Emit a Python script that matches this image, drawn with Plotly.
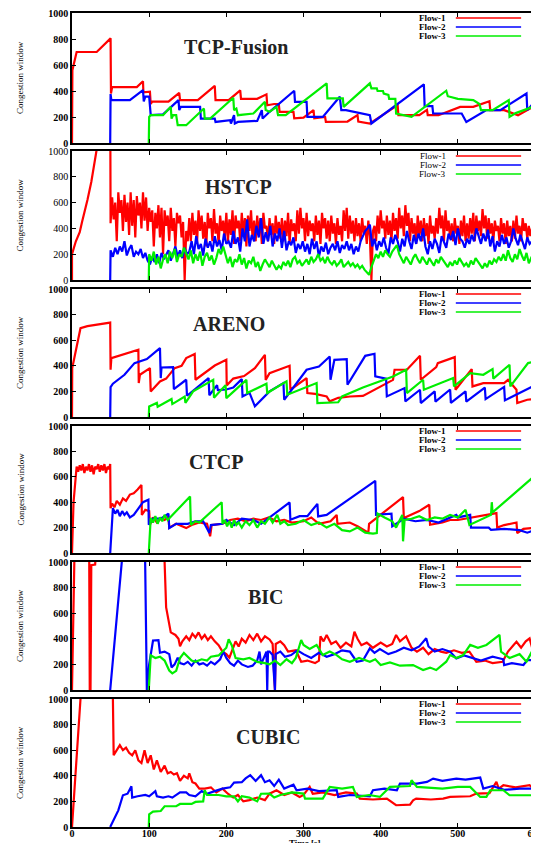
import plotly.graph_objects as go

# ---------------- data ----------------
PANEL_TITLES = ["TCP-Fusion", "HSTCP", "ARENO", "CTCP", "BIC", "CUBIC"]
FLOW_NAMES = ["Flow-1", "Flow-2", "Flow-3"]
COLORS = ["#ff0000", "#0000ff", "#00ee00"]
X_TICKS = [0, 100, 200, 300, 400, 500, 600]
Y_TICKS = [0, 200, 400, 600, 800, 1000]

# TCP-Fusion  (time [s], cwnd)
fusion_flow1 = [(0,0),(0.5,560),(6,700),(32,700),(50,805),(50.5,380),(52,430),(84,430),(92,475),(92.5,390),
    (101,395),(102,300),(104,318),(125,318),(139,385),(140,330),(163,330),(185,440),(186,330),(203,330),
    (218,405),(219,340),(240,340),(252,374),(253,290),(262,300),(268,300),(269,240),(287,240),(288,190),
    (300,195),(313,253),(314,190),(328,200),(329,162),(357,165),(370,214),(371,165),(386,150),(422,291),
    (423,214),(450,214),(460,255),(461,214),(475,214),(503,278),(520,278),(541,322),(542,253),(560,253),
    (578,214),(596,273),(597,240),(600,240)]
fusion_flow2 = [(49.5,0),(50,376),(51,330),(75,330),(92,407),(93,320),(95,357),(100,357),(102,214),(118,220),
    (138,330),(139,253),(141,278),(166,278),(167,188),(185,188),(186,162),(205,175),(206,150),(210,214),
    (211,150),(215,162),(240,170),(246,253),(247,188),(256,240),(288,402),(289,317),(304,317),(305,201),
    (325,201),(347,356),(349,253),(355,253),(386,214),(388,150),(456,451),(457,283),(467,283),(468,227),
    (505,227),(511,162),(537,253),(555,253),(589,381),(590,253),(597,300),(600,230)]
fusion_flow3 = [(99.5,0),(100,201),(102,214),(118,214),(128,278),(129,188),(131,214),(135,214),(137,137),
    (148,137),(171,265),(172,188),(179,188),(209,348),(210,253),(213,265),(215,214),(235,227),(250,317),
    (251,253),(256,240),(265,278),(267,214),(277,214),(330,459),(331,343),(351,343),(352,278),(386,459),
    (388,420),(395,420),(396,400),(403,400),(404,380),(410,370),(411,340),(419,340),(420,227),(440,201),
    (485,402),(487,360),(500,340),(520,330),(528,300),(530,253),(545,253),(566,330),(567,201),(575,230),
    (597,278),(598,201),(600,201)]

# HSTCP: start-up segment followed by noisy samples (flow-1 every 2 s from 50 s,
# flow-2 every 3 s from 50 s, flow-3 every 3 s from 100 s)
hstcp_flow1_head = [(0,0),(0,200),(5,300),(10,370),(13,450),(16,520),(20,620),(25,760),(29,900),(32,1000),
    (40,1300),(49.5,1500)]
hstcp_flow1_vals = [
    440,640,470,600,300,680,520,620,380,660,450,600,350,680,420,620,330,650,500,600,400,680,460,640,380,560,
    450,540,260,520,400,580,330,560,200,540,420,500,300,560,380,480,260,520,440,500,330,450,0,380,300,
    480,300,520,350,460,280,540,380,500,320,450,260,520,400,480,300,550,360,440,280,500,380,460,320,520,
    300,470,350,540,280,500,400,460,300,520,350,480,260,500,380,540,320,460,300,500,350,480,280,520,400,
    420,300,480,350,440,280,500,360,450,320, 480,300,460,340,520,280,470,380,440,300,
    540,360,560,400,480,300,520,340,460,380, 440,300,500,350,460,280,520,400,480,320,
    460,300,500,360,440,280,480,350,420,300, 540,380,560,320,500,360,460,300,480,340,
    440,300,480,360,420,280,460,340,0,380, 420,300,500,360,540,400,460,320,500,350,
    460,300,520,380,480,320,560,400,500,340, 580,420,520,300,480,360,440,280,500,350,
    460,300,480,340,440,280,500,360,420,320, 480,360,560,400,500,300,540,380,460,320,
    440,300,480,360,420,280,460,340,500,300, 440,320,480,360,520,300,500,380,460,340,
    550,400,500,320,480,360,440,300,460,380, 420,300,480,360,440,280,460,340,420,300,
    460,320,500,360,420,300,480,380,440,320, 420,340,400,360,380]
hstcp_flow2_head = [(49.5,0)]
hstcp_flow2_vals = [
    230,180,250,200,260,220,300,190,240,270,180,220,200,240,170,210,150,
    120,180,140,200,130,210,160,190,230,150,200,260,180,230,170,250,200,
    220,300,200,340,240,280,190,320,250,300,220,340,260,310,230,360,280,
    300,250,380,280,330,220,400,300,470,260,350,300,420,330,480,280,370,
    300,420,260,360,300,400,250,380,230,300,270,330,210,280,240,300,220,
    280,200,320,240,300,180,260,220,290,200,250,280,230,300,210,270,240,
    300,230,280,200,260,220,300,340,380,400,430,260,320,230,300,260,330,
    250,200,330,280,350,300,220,320,260,380,300,240,350,280,360,300,400,
    260,200,300,240,320,280,210,340,300,250,360,310,380,270,400,320,300,
    250,320,280,350,300,400,330,280,360,300,390,260,340,220,300,260,350,
    280,330,250,300,400,320,270,350,300,240,330,280,300,350]
hstcp_flow3_head = [(99.5,0)]
hstcp_flow3_vals = [
    200,150,220,120,180,90,160,200,130,220,170,240,140,200,180,250,210,
    160,230,130,200,150,220,110,180,210,150,190,120,170,240,200,260,190,
    130,180,100,160,140,200,120,170,90,150,130,180,100,140,70,120,160,
    130,100,150,120,80,110,90,140,110,150,100,160,180,130,150,110,140,
    160,120,180,140,160,200,150,170,130,180,140,120,150,110,130,160,100,
    120,140,110,130,100,120,90,110,80,60,40,100,150,200,170,220,180,
    230,200,180,220,250,270,200,160,130,180,150,120,170,200,160,130,180,
    150,120,170,140,110,160,130,180,150,120,100,140,110,150,120,170,140,
    110,130,100,150,120,170,140,110,90,130,100,150,120,160,140,180,150,
    200,150,230,170,140,200,160,240,190,150,210,130,170,150]

# ARENO
areno_flow1 = [(0,0),(0.3,382),(11,694),(20,710),(49.5,738),(50,369),(51,460),(86,525),(86.5,265),(88,330),
    (101,382),(102,200),(114,278),(122,300),(133,382),(142,400),(148,460),(159,493),(160,291),(185,402),
    (200,447),(200.5,247),(209,300),(223,320),(237,382),(250,486),(251,290),(256,343),(282,400),(283,213),
    (304,304),(305,187),(315,180),(330,160),(334,122),(345,150),(360,160),(377,165),(416,290),(418,369),
    (434,369),(451,478),(452,291),(472,390),(474,420),(496,468),(497,213),(518,374),(519,239),(533,265),
    (560,265),(565,290),(576,213),(577,109),(590,135),(600,140)]
areno_flow2 = [(49.5,0),(50,234),(53,260),(68,330),(81,421),(97,452),(114,538),(115,304),(116,387),(131,390),
    (132,218),(148,291),(149,166),(177,304),(178,170),(188,249),(189,210),(200,215),(209,230),(220,296),
    (221,161),(230,190),(237,83),(256,200),(274,265),(275,135),(304,369),(320,395),(334,473),(335,291),
    (340,447),(356,452),(357,252),(380,478),(392,494),(393,317),(407,300),(408,161),(431,226),(432,122),
    (451,213),(452,109),(470,200),(471,120),(490,215),(491,110),(510,200),(511,120),(535,230),(536,140),
    (560,235),(561,130),(597,239),(600,240)]
areno_flow3 = [(99.5,0),(100,83),(110,110),(111,80),(129,140),(130,101),(146,160),(147,110),(157,200),
    (183,291),(184,150),(199,249),(200,148),(226,290),(227,187),(252,260),(253,187),(278,278),(279,174),
    (317,265),(318,109),(345,115),(350,161),(377,230),(416,317),(433,369),(434,187),(455,291),(456,213),
    (494,304),(495,239),(516,343),(533,330),(545,374),(546,300),(567,408),(568,239),(591,421),(600,433)]

# CTCP
ctcp_flow1 = [(0,0),(2,400),(6,680),(8,640),(10,690),(12,650),(14,700),(16,630),(18,680),(20,650),(22,700),
    (24,640),(26,690),(28,620),(30,680),(32,660),(34,700),(36,640),(38,690),(40,650),(42,700),(44,630),
    (46,680),(48,660),(49.5,700),(50,353),(52,390),(55,360),(58,410),(62,380),(66,430),(70,410),(75,460),
    (80,470),(85,500),(90,536),(90.5,300),(95,340),(100,330),(101,222),(105,280),(110,240),(115,270),
    (120,260),(125,290),(126,200),(135,230),(145,205),(148,196),(155,220),(165,240),(175,230),(179,131),
    (181,220),(195,230),(205,260),(215,270),(225,250),(235,270),(245,260),(255,280),(265,250),(275,260),
    (285,240),(300,250),(310,280),(320,230),(335,250),(343,300),(344,230),(360,240),(370,210),(384,160),
    (385,230),(400,300),(429,440),(430,275),(440,300),(450,330),(463,380),(464,222),(480,240),(490,260),
    (500,260),(510,270),(550,314),(551,200),(560,220),(576,240),(577,157),(585,190),(600,200)]
ctcp_flow2 = [(49.5,0),(53,353),(56,310),(59,340),(62,290),(65,330),(68,300),(71,320),(75,280),(80,300),
    (92,400),(99,420),(99.5,222),(105,270),(115,270),(125,310),(126,196),(135,230),(150,230),(160,250),
    (170,250),(178,157),(180,220),(195,230),(200,260),(210,220),(220,270),(235,260),(245,230),(256,280),
    (282,398),(283,262),(295,290),(305,290),(318,387),(319,288),(330,300),(393,568),(394,301),(414,310),
    (415,210),(430,270),(445,250),(460,260),(475,240),(498,300),(500,280),(516,300),(517,200),(540,200),
    (543,183),(560,190),(580,180),(590,160),(600,180)]
ctcp_flow3 = [(99.5,0),(102,275),(105,240),(108,290),(111,230),(114,280),(117,250),(120,300),(124,260),
    (153,445),(154,222),(160,250),(165,240),(194,400),(195,230),(198,260),(201,210),(204,250),(207,200),
    (210,260),(213,220),(216,240),(220,200),(225,250),(230,220),(235,260),(240,200),(245,250),(250,230),
    (256,280),(260,240),(266,300),(270,230),(275,250),(280,220),(290,230),(300,260),(310,220),(320,240),
    (330,200),(340,230),(350,180),(360,170),(370,200),(380,160),(390,152),(395,157),(396,310),(405,280),
    (415,250),(420,200),(428,300),(429,92),(431,260),(440,270),(450,290),(460,260),(470,280),(480,270),
    (490,300),(500,280),(510,340),(515,220),(543,300),(544,400),(545,320),(596,589),(597,380),(600,380)]

# BIC
bic_flow1 = [(0,0),(3,1000),(6,1500),(22,1500),(23,0),(24,0),(25,975),(30,980),(35,1500),(119,1500),
    (120,1000),(122,645),(128,450),(134,430),(138,400),(140,342),(143,380),(148,420),(152,390),(156,440),
    (160,410),(164,450),(168,400),(172,430),(176,390),(180,420),(185,380),(190,350),(195,300),(200,280),
    (204,253),(207,300),(212,380),(216,340),(220,400),(225,370),(230,430),(235,390),(240,440),(245,380),
    (250,420),(256,395),(260,360),(263,0),(264,360),(270,380),(275,350),(280,300),(290,310),(297,220),
    (305,230),(315,210),(320,230),(322,420),(326,380),(330,430),(336,360),(342,380),(348,330),(355,370),
    (362,340),(366,455),(370,400),(375,350),(382,370),(390,330),(400,370),(408,340),(415,360),(420,430),
    (425,380),(433,420),(440,330),(447,300),(455,330),(462,280),(470,320),(478,300),(485,290),(495,310),
    (505,290),(515,300),(524,220),(535,230),(545,210),(558,220),(565,300),(572,350),(576,377),(582,330),
    (588,380),(593,403),(597,320),(600,247)]
bic_flow2 = [(49.5,0),(64.7,1000),(66,1100),(93,1100),(94.8,1000),(97,0),(100,200),(105,387),(112,390),
    (114,291),(120,300),(126,280),(129,177),(133,200),(137,253),(140,210),(145,200),(150,220),(155,190),
    (160,230),(165,200),(170,210),(175,190),(180,220),(185,200),(192,240),(196,300),(200,250),(205,210),
    (210,190),(215,230),(220,200),(228,180),(234,190),(240,230),(243,300),(245,200),(252,300),(253,0),
    (254,300),(256,300),(260,273),(263,0),(264,280),(270,300),(276,260),(284,273),(292,310),(300,280),
    (310,250),(320,290),(330,260),(340,280),(350,310),(360,300),(369,221),(377,230),(386,325),(392,290),
    (399,320),(410,280),(420,300),(430,330),(440,310),(450,340),(459,404),(462,340),(470,300),(480,320),
    (490,300),(498,247),(508,270),(520,250),(530,230),(545,260),(559,240),(560,195),(570,210),(585,195),
    (590,234),(600,234)]
bic_flow3 = [(99.5,0),(102,271),(108,250),(114,260),(120,230),(126,152),(130,130),(135,150),(140,250),
    (145,290),(150,260),(155,230),(160,220),(168,240),(175,230),(180,260),(190,270),(200,330),(203,397),
    (207,350),(212,250),(222,240),(230,250),(240,220),(250,210),(256,200),(263,230),(270,195),(278,240),
    (285,210),(290,250),(297,391),(300,352),(308,320),(317,352),(325,273),(334,300),(343,273),(350,240),
    (360,221),(372,250),(386,221),(393,240),(400,195),(412,215),(425,190),(442,195),(455,156),(464,175),
    (472,156),(485,221),(490,273),(498,250),(507,273),(516,352),(526,330),(537,352),(554,430),(556,300),
    (567,250),(580,280),(589,221),(596,300),(600,404)]

# CUBIC
cubic_flow1 = [(0,0),(11,1000),(14,1500),(52,1500),(53,1000),(54,561),(58,600),(62,640),(66,600),(70,620),
    (74,580),(78,560),(82,600),(86,520),(90,500),(94,600),(98,500),(102,560),(106,450),(110,520),(115,430),
    (120,480),(124,420),(128,430),(132,410),(136,420),(140,360),(145,400),(150,380),(152,420),(156,350),
    (160,340),(165,300),(172,300),(180,310),(187,270),(195,300),(202,260),(209,230),(215,250),(222,200),
    (230,210),(240,230),(250,210),(256,260),(265,287),(275,250),(285,270),(295,235),(300,250),(308,313),
    (312,260),(325,270),(340,250),(355,270),(369,261),(373,222),(390,215),(408,222),(420,170),(438,175),
    (442,209),(446,222),(465,215),(481,222),(490,235),(516,240),(524,261),(541,265),(545,300),(550,352),
    (553,300),(559,326),(575,310),(593,326),(600,287)]
cubic_flow2 = [(49.5,0),(60,130),(66,248),(72,260),(77,318),(78,230),(85,240),(95,250),(100,240),(108,280),
    (110,240),(118,230),(125,240),(130,230),(140,270),(148,270),(152,250),(160,240),(168,280),(175,260),
    (185,280),(195,300),(205,310),(210,347),(220,350),(225,380),(231,405),(238,360),(245,405),(250,350),
    (256,365),(262,320),(268,370),(275,300),(287,330),(291,287),(305,300),(320,280),(343,287),(345,235),
    (360,250),(386,240),(390,287),(405,300),(421,287),(425,339),(447,339),(460,352),(468,378),(480,360),
    (498,378),(510,370),(529,386),(533,300),(545,320),(560,290),(580,300),(600,300)]
cubic_flow3 = [(99.5,0),(100,99),(105,120),(115,125),(120,162),(135,162),(140,180),(155,180),(160,196),
    (170,200),(172,287),(175,250),(190,250),(200,240),(210,240),(215,200),(220,240),(230,230),(240,200),
    (245,260),(256,261),(262,230),(270,250),(285,270),(300,261),(302,222),(325,222),(334,313),(350,300),
    (364,313),(369,235),(385,250),(399,235),(412,313),(438,320),(440,365),(447,313),(480,300),(500,313),
    (516,313),(529,235),(537,235),(542,287),(559,287),(567,248),(597,248),(600,287)]


def expand(head, vals, start, step):
    return head + [(start + step * i, v) for i, v in enumerate(vals)]


hstcp_flow1 = expand(hstcp_flow1_head, hstcp_flow1_vals, 50, 2)
hstcp_flow2 = expand(hstcp_flow2_head, hstcp_flow2_vals, 50, 3)
hstcp_flow3 = expand(hstcp_flow3_head, hstcp_flow3_vals, 100, 3)

PANELS = [
    (fusion_flow1, fusion_flow2, fusion_flow3),
    (hstcp_flow1, hstcp_flow2, hstcp_flow3),
    (areno_flow1, areno_flow2, areno_flow3),
    (ctcp_flow1, ctcp_flow2, ctcp_flow3),
    (bic_flow1, bic_flow2, bic_flow3),
    (cubic_flow1, cubic_flow2, cubic_flow3),
]

# ---------------- layout ----------------
# the page places the figure 8 px from the top-left corner of the window
OFF = 8
W, H = 539 - OFF, 843 - OFF
PX_LEFT, PX_RIGHT = 72 - OFF, 535 - OFF
PANEL_PX = [(13, 143), (151, 280), (289, 417), (426, 553), (562, 690), (699, 827)]
TITLE_POS = [(0.354, 0.74), (0.359, 0.72), (0.339, 0.73), (0.311, 0.72), (0.419, 0.73), (0.424, 0.70)]
FONT = "Liberation Serif, Times New Roman, serif"

fig = go.Figure()
layout = dict(width=W, height=H, margin=dict(l=0, r=0, t=0, b=0, autoexpand=False),
              paper_bgcolor="white", plot_bgcolor="white", showlegend=False)
annotations = []
shapes = []
xdom = [PX_LEFT / W, PX_RIGHT / W]

for i, (title, flows) in enumerate(zip(PANEL_TITLES, PANELS)):
    n = i + 1
    sfx = "" if n == 1 else str(n)
    weight = "normal" if title == "HSTCP" else "bold"
    for k, data in enumerate(flows):
        fig.add_trace(go.Scatter(
            x=[p[0] for p in data], y=[p[1] for p in data], mode="lines",
            name=FLOW_NAMES[k], line=dict(color=COLORS[k], width=2.2),
            xaxis="x" + sfx, yaxis="y" + sfx, hoverinfo="skip"))
    top, bot = PANEL_PX[i]
    ydom = [1 - (bot - OFF) / H, 1 - (top - OFF) / H]
    last = (n == len(PANELS))
    layout["xaxis" + sfx] = dict(
        domain=xdom, anchor="y" + sfx, range=[0, 600], tickvals=X_TICKS,
        showticklabels=last, ticks="inside", ticklen=4, tickcolor="black",
        showline=True, linecolor="black", linewidth=1.5, mirror="ticks",
        showgrid=False, zeroline=False, automargin=False,
        ticklabeloverflow="allow", ticklabelstandoff=-4,
        tickfont=dict(family=FONT, size=10, color="black", weight="bold"))
    layout["yaxis" + sfx] = dict(
        domain=ydom, anchor="x" + sfx, range=[0, 1000], tickvals=Y_TICKS,
        ticks="inside", ticklen=4, tickcolor="black",
        showline=True, linecolor="black", linewidth=1.5, mirror="ticks",
        showgrid=False, zeroline=False, automargin=False,
        ticklabeloverflow="allow",
        tickfont=dict(family=FONT, size=10, color="black", weight=weight))
    xr, yr = "x" + sfx + " domain", "y" + sfx + " domain"
    # panel title
    annotations.append(dict(text=title, xref=xr, yref=yr, x=TITLE_POS[i][0], y=TITLE_POS[i][1],
                            showarrow=False, xanchor="center", yanchor="middle",
                            font=dict(family=FONT, size=20, color="#222222", weight="bold")))
    # y-axis title
    annotations.append(dict(text="Congestion window", xref="paper", yref=yr, x=(20 - OFF) / W, y=0.5,
                            textangle=-90, showarrow=False, xanchor="center", yanchor="middle",
                            font=dict(family=FONT, size=9, color="black")))
    # key
    for k in range(3):
        yk = 1 - (5 + 9 * k) / (bot - top)
        annotations.append(dict(text=FLOW_NAMES[k], xref=xr, yref=yr, x=0.812, y=yk,
                                showarrow=False, xanchor="right", yanchor="middle",
                                font=dict(family=FONT, size=9, color="black", weight=weight)))
        shapes.append(dict(type="line", xref=xr, yref=yr, x0=0.829, x1=0.97, y0=yk, y1=yk,
                           line=dict(color=COLORS[k], width=1.5)))

annotations.append(dict(text="<b>Time [s]</b>", xref="paper", yref="paper", x=(305 - OFF) / W,
                        y=1 - (843 - OFF) / H, showarrow=False, xanchor="center", yanchor="middle",
                        font=dict(family=FONT, size=9, color="black")))
layout["annotations"] = annotations
layout["shapes"] = shapes
fig.update_layout(**layout)
fig.write_html("out.html")
